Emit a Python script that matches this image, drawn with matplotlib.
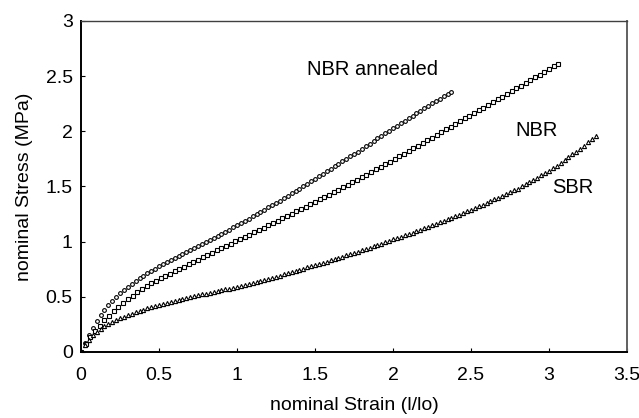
import matplotlib
matplotlib.use("Agg")
import matplotlib.pyplot as plt
from matplotlib.ticker import FuncFormatter

# NBR annealed (open circles)
annealed_strain = [
    0.000, 0.025, 0.050, 0.075, 0.100, 0.125, 0.150, 0.175,
    0.200, 0.225, 0.250, 0.275, 0.300, 0.325, 0.350, 0.375,
    0.400, 0.425, 0.450, 0.475, 0.500, 0.525, 0.550, 0.575,
    0.600, 0.625, 0.650, 0.675, 0.700, 0.725, 0.750, 0.775,
    0.800, 0.825, 0.850, 0.875, 0.900, 0.925, 0.950, 0.975,
    1.000, 1.025, 1.050, 1.075, 1.100, 1.125, 1.150, 1.175,
    1.200, 1.225, 1.250, 1.275, 1.300, 1.325, 1.350, 1.375,
    1.400, 1.425, 1.450, 1.475, 1.500, 1.525, 1.550, 1.575,
    1.600, 1.625, 1.650, 1.675, 1.700, 1.725, 1.750, 1.775,
    1.800, 1.825, 1.850, 1.875, 1.900, 1.925, 1.950, 1.975,
    2.000, 2.025, 2.050, 2.075, 2.100, 2.125, 2.150, 2.175,
    2.200, 2.225, 2.250, 2.275, 2.300, 2.325, 2.350, 2.375,
]
annealed_stress = [
    0.000, 0.085, 0.155, 0.220, 0.280, 0.332, 0.379, 0.422,
    0.462, 0.499, 0.533, 0.564, 0.593, 0.620, 0.645, 0.669,
    0.692, 0.714, 0.735, 0.755, 0.775, 0.795, 0.814, 0.832,
    0.850, 0.868, 0.886, 0.904, 0.922, 0.940, 0.958, 0.977,
    0.996, 1.015, 1.034, 1.053, 1.072, 1.091, 1.110, 1.129,
    1.148, 1.168, 1.188, 1.209, 1.229, 1.249, 1.269, 1.290,
    1.310, 1.331, 1.352, 1.373, 1.395, 1.416, 1.437, 1.458,
    1.480, 1.502, 1.525, 1.547, 1.570, 1.592, 1.615, 1.637,
    1.660, 1.682, 1.705, 1.727, 1.750, 1.772, 1.795, 1.817,
    1.840, 1.864, 1.887, 1.911, 1.935, 1.958, 1.982, 2.006,
    2.030, 2.052, 2.075, 2.097, 2.120, 2.142, 2.165, 2.187,
    2.210, 2.231, 2.253, 2.274, 2.296, 2.317, 2.339, 2.360,
]

# NBR (small open squares)
nbr_strain = [
    0.00, 0.03, 0.06, 0.09, 0.12, 0.15, 0.18, 0.21, 0.24, 0.27,
    0.30, 0.33, 0.36, 0.39, 0.42, 0.45, 0.48, 0.51, 0.54, 0.57,
    0.60, 0.63, 0.66, 0.69, 0.72, 0.75, 0.78, 0.81, 0.84, 0.87,
    0.90, 0.93, 0.96, 0.99, 1.02, 1.05, 1.08, 1.11, 1.14, 1.17,
    1.20, 1.23, 1.26, 1.29, 1.32, 1.35, 1.38, 1.41, 1.44, 1.47,
    1.50, 1.53, 1.56, 1.59, 1.62, 1.65, 1.68, 1.71, 1.74, 1.77,
    1.80, 1.83, 1.86, 1.89, 1.92, 1.95, 1.98, 2.01, 2.04, 2.07,
    2.10, 2.13, 2.16, 2.19, 2.22, 2.25, 2.28, 2.31, 2.34, 2.37,
    2.40, 2.43, 2.46, 2.49, 2.52, 2.55, 2.58, 2.61, 2.64, 2.67,
    2.70, 2.73, 2.76, 2.79, 2.82, 2.85, 2.88, 2.91, 2.94, 2.97,
    3.00, 3.03, 3.06,
]
nbr_stress = [
    0.000, 0.070, 0.132, 0.188, 0.239, 0.286, 0.330, 0.371, 0.409, 0.445,
    0.479, 0.511, 0.541, 0.569, 0.596, 0.621, 0.645, 0.668, 0.690, 0.711,
    0.732, 0.753, 0.774, 0.795, 0.816, 0.837, 0.858, 0.879, 0.900, 0.921,
    0.942, 0.962, 0.982, 1.002, 1.022, 1.043, 1.064, 1.085, 1.106, 1.127,
    1.148, 1.169, 1.190, 1.211, 1.232, 1.253, 1.274, 1.295, 1.317, 1.339,
    1.361, 1.383, 1.405, 1.427, 1.450, 1.472, 1.494, 1.516, 1.538, 1.560,
    1.582, 1.606, 1.630, 1.654, 1.678, 1.702, 1.726, 1.750, 1.774, 1.798,
    1.822, 1.846, 1.870, 1.894, 1.918, 1.942, 1.967, 1.992, 2.017, 2.042,
    2.067, 2.092, 2.117, 2.142, 2.166, 2.190, 2.214, 2.239, 2.264, 2.289,
    2.314, 2.339, 2.364, 2.389, 2.414, 2.439, 2.464, 2.489, 2.514, 2.539,
    2.564, 2.588, 2.612,
]

# SBR (open triangles)
sbr_strain = [
    0.000, 0.025, 0.050, 0.075, 0.100, 0.125, 0.150, 0.175,
    0.200, 0.225, 0.250, 0.275, 0.300, 0.325, 0.350, 0.375,
    0.400, 0.425, 0.450, 0.475, 0.500, 0.525, 0.550, 0.575,
    0.600, 0.625, 0.650, 0.675, 0.700, 0.725, 0.750, 0.775,
    0.800, 0.825, 0.850, 0.875, 0.900, 0.925, 0.950, 0.975,
    1.000, 1.025, 1.050, 1.075, 1.100, 1.125, 1.150, 1.175,
    1.200, 1.225, 1.250, 1.275, 1.300, 1.325, 1.350, 1.375,
    1.400, 1.425, 1.450, 1.475, 1.500, 1.525, 1.550, 1.575,
    1.600, 1.625, 1.650, 1.675, 1.700, 1.725, 1.750, 1.775,
    1.800, 1.825, 1.850, 1.875, 1.900, 1.925, 1.950, 1.975,
    2.000, 2.025, 2.050, 2.075, 2.100, 2.125, 2.150, 2.175,
    2.200, 2.225, 2.250, 2.275, 2.300, 2.325, 2.350, 2.375,
    2.400, 2.425, 2.450, 2.475, 2.500, 2.525, 2.550, 2.575,
    2.600, 2.625, 2.650, 2.675, 2.700, 2.725, 2.750, 2.775,
    2.800, 2.825, 2.850, 2.875, 2.900, 2.925, 2.950, 2.975,
    3.000, 3.025, 3.050, 3.075, 3.100, 3.125, 3.150, 3.175,
    3.200, 3.225, 3.250, 3.275, 3.300,
]
sbr_stress = [
    0.000, 0.065, 0.112, 0.150, 0.182, 0.209, 0.233, 0.254,
    0.273, 0.290, 0.306, 0.321, 0.335, 0.348, 0.361, 0.373,
    0.385, 0.396, 0.407, 0.417, 0.427, 0.437, 0.447, 0.456,
    0.465, 0.474, 0.483, 0.492, 0.500, 0.508, 0.515, 0.523,
    0.530, 0.538, 0.545, 0.553, 0.560, 0.568, 0.575, 0.583,
    0.590, 0.599, 0.608, 0.616, 0.625, 0.634, 0.643, 0.651,
    0.660, 0.671, 0.681, 0.692, 0.703, 0.713, 0.724, 0.734,
    0.745, 0.756, 0.766, 0.777, 0.788, 0.798, 0.809, 0.819,
    0.830, 0.841, 0.853, 0.864, 0.875, 0.886, 0.898, 0.909,
    0.920, 0.933, 0.945, 0.958, 0.970, 0.983, 0.995, 1.008,
    1.020, 1.033, 1.045, 1.058, 1.070, 1.083, 1.095, 1.108,
    1.120, 1.134, 1.148, 1.161, 1.175, 1.189, 1.203, 1.216,
    1.230, 1.245, 1.260, 1.275, 1.290, 1.305, 1.320, 1.335,
    1.350, 1.366, 1.383, 1.399, 1.415, 1.431, 1.448, 1.464,
    1.480, 1.500, 1.520, 1.540, 1.560, 1.580, 1.600, 1.620,
    1.640, 1.665, 1.690, 1.715, 1.740, 1.765, 1.790, 1.815,
    1.840, 1.870, 1.900, 1.930, 1.960,
]

plt.rcParams['font.family'] = ['Liberation Sans', 'DejaVu Sans']

fig = plt.figure(figsize=(6.39, 4.18), dpi=100)
ax = fig.add_axes([0.1268, 0.1579, 0.8544, 0.7919])

# markers only, no connecting lines
ax.plot(annealed_strain, annealed_stress, linestyle='none', marker='o', markersize=2.7,
        markerfacecolor='white', markeredgecolor='black', markeredgewidth=0.8)
ax.plot(nbr_strain, nbr_stress, linestyle='none', marker='s', markersize=2.2,
        markerfacecolor='white', markeredgecolor='black', markeredgewidth=0.8)
ax.plot(sbr_strain, sbr_stress, linestyle='none', marker='^', markersize=3.0,
        markerfacecolor='white', markeredgecolor='black', markeredgewidth=0.8)

ax.text(1.87, 2.56, 'NBR annealed', fontsize=14.5, ha='center', va='center')
ax.text(2.92, 2.01, 'NBR', fontsize=14.5, ha='center', va='center')
ax.text(3.15, 1.49, 'SBR', fontsize=14.5, ha='center', va='center')

ax.set_xlim(0, 3.5)
ax.set_ylim(0, 3)
ax.set_xticks([0, 0.5, 1, 1.5, 2, 2.5, 3, 3.5])
ax.set_yticks([0, 0.5, 1, 1.5, 2, 2.5, 3])
fmt = FuncFormatter(lambda v, pos: '%g' % v)
ax.xaxis.set_major_formatter(fmt)
ax.yaxis.set_major_formatter(fmt)
ax.tick_params(direction='in', length=3, width=0.8, labelsize=14, top=False, right=False)
ax.tick_params(axis='x', pad=11)
ax.tick_params(axis='y', pad=6)

ax.set_xlabel('nominal Strain (l/lo)', fontsize=14, labelpad=9)
ax.set_ylabel('nominal Stress (MPa)', fontsize=14, labelpad=9)

# heavy black left/bottom axes, thin grey box on top/right
ax.spines['left'].set_linewidth(1.4)
ax.spines['bottom'].set_linewidth(1.4)
ax.spines['top'].set_linewidth(1.0)
ax.spines['top'].set_color('#404040')
ax.spines['right'].set_linewidth(1.4)
ax.spines['right'].set_color('#606060')

plt.savefig('out.png', dpi=100)
